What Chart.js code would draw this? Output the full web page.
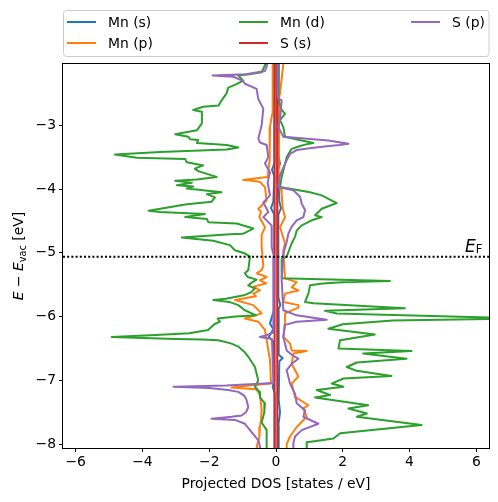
<!DOCTYPE html>
<html>
<head>
<meta charset="utf-8">
<script src="https://cdn.jsdelivr.net/npm/chart.js@4.4.0/dist/chart.umd.min.js"></script>
<style>
  html, body { margin: 0; padding: 0; background: #fff; }
  #wrap { width: 498px; height: 502px; }
</style>
</head>
<body>
<div id="wrap"><canvas id="chart1" width="498" height="502"></canvas></div>
<script>
const xTicks = [-6, -4, -2, 0, 2, 4, 6];
const yTicks = [-8, -7, -6, -5, -4, -3];
const fermiLevel = -5.06;

const names = ['Mn (s)', 'Mn (p)', 'Mn (d)', 'S (s)', 'S (p)'];
const colors = ['#1f77b4', '#ff7f0e', '#2ca02c', '#d62728', '#9467bd'];

// [energy, dos] pairs, spin up positive / spin down negative
const mnSUp = [[-1.9,0.08],[-3.5,0.08],[-3.6,0.12],[-3.7,0.06],[-4.2,0.1],[-4.3,0.15],[-4.4,0.07],[-5.7,0.07],[-5.82,0.13],[-5.9,0.06],[-6.6,0.08],[-6.65,0.2],[-6.7,0.1],[-7.3,0.08],[-7.5,0.12],[-7.7,0.07],[-8.2,0.08]];
const mnSDown = [[-1.9,-0.04],[-3.6,-0.05],[-3.7,-0.12],[-3.8,-0.05],[-4.2,-0.08],[-4.3,-0.15],[-4.4,-0.05],[-5.9,-0.06],[-6.0,-0.12],[-6.11,-0.18],[-6.2,-0.08],[-6.32,-0.22],[-6.4,-0.06],[-7.0,-0.05],[-7.1,-0.1],[-7.2,-0.04],[-8.2,-0.04]];

const mnPUp = [[-1.9,0.24],[-2.04,0.22],[-2.5,0.12],[-2.6,0.08],[-3.9,0.08],[-4.0,0.15],[-4.07,0.17],[-4.3,0.2],[-4.44,0.27],[-4.6,0.12],[-4.85,0.27],[-4.96,0.22],[-5.4,0.27],[-5.46,0.62],[-5.54,0.47],[-5.59,0.67],[-5.64,0.27],[-5.77,0.22],[-5.82,0.67],[-5.86,0.67],[-5.95,0.27],[-6.08,0.27],[-6.32,0.22],[-6.42,0.42],[-6.53,0.47],[-6.54,0.92],[-6.58,0.52],[-6.74,0.47],[-6.94,0.67],[-7.05,0.47],[-7.26,0.57],[-7.39,0.97],[-7.44,0.82],[-7.57,0.92],[-7.73,0.62],[-7.88,0.42],[-8.0,0.32],[-8.2,0.32]];
const mnPDown = [[-1.9,-0.1],[-2.8,-0.1],[-2.87,-0.13],[-3.03,-0.18],[-3.29,-0.2],[-3.55,-0.18],[-3.81,-0.25],[-3.84,-0.7],[-3.86,-0.98],[-3.87,-0.7],[-3.89,-0.48],[-3.97,-0.33],[-4.18,-0.28],[-4.31,-0.53],[-4.36,-0.45],[-4.44,-0.5],[-4.6,-0.33],[-4.72,-0.43],[-4.91,-0.43],[-5.2,-0.38],[-5.27,-0.43],[-5.32,-0.58],[-5.38,-0.28],[-5.43,-0.48],[-5.48,-0.3],[-5.53,-0.68],[-5.59,-0.48],[-5.64,-0.68],[-5.68,-0.6],[-5.74,-1.23],[-5.82,-0.68],[-5.95,-0.43],[-6.03,-0.93],[-6.08,-0.53],[-6.21,-0.33],[-6.37,-0.28],[-6.68,-0.18],[-7.05,-0.15],[-7.08,-0.8],[-7.11,-1.33],[-7.14,-0.6],[-7.21,-0.48],[-7.47,-0.43],[-7.62,-0.45],[-7.73,-0.48],[-7.9,-0.5],[-8.04,-0.58],[-8.2,-0.4]];

const mnDUp = [[-1.9,0.08],[-2.6,0.08],[-2.61,0.07],[-2.76,0.17],[-2.82,0.27],[-2.92,0.12],[-3.03,0.22],[-3.18,0.27],[-3.22,0.6],[-3.26,0.95],[-3.28,1.12],[-3.3,0.9],[-3.33,0.7],[-3.37,0.47],[-3.5,0.32],[-3.71,0.22],[-3.81,0.17],[-3.97,0.12],[-4.05,1.02],[-4.1,1.37],[-4.22,1.82],[-4.31,1.37],[-4.41,1.17],[-4.44,1.37],[-4.49,1.07],[-4.57,0.77],[-4.65,0.62],[-4.75,0.57],[-4.85,0.47],[-5.06,0.32],[-5.1,0.17],[-5.4,0.17],[-5.44,3.41],[-5.46,2.0],[-5.48,1.4],[-5.51,1.02],[-5.64,0.97],[-5.77,0.87],[-5.79,1.12],[-5.87,3.86],[-5.91,1.47],[-5.95,1.82],[-6.03,7.5],[-6.06,3.5],[-6.12,2.0],[-6.19,1.57],[-6.28,2.96],[-6.37,1.92],[-6.5,1.87],[-6.54,4.06],[-6.58,2.61],[-6.66,3.91],[-6.72,2.42],[-6.79,2.12],[-6.85,2.42],[-6.93,3.46],[-6.97,2.02],[-7.05,1.67],[-7.1,2.02],[-7.15,1.22],[-7.23,1.62],[-7.27,1.17],[-7.39,2.76],[-7.44,2.17],[-7.52,2.72],[-7.57,2.42],[-7.7,4.36],[-7.83,1.92],[-7.91,1.72],[-7.95,1.2],[-7.97,0.92],[-8.2,0.92]];
const mnDDown = [[-1.9,-0.33],[-2.06,-0.33],[-2.17,-0.43],[-2.2,-0.8],[-2.22,-1.13],[-2.3,-0.98],[-2.36,-1.2],[-2.41,-1.43],[-2.5,-1.48],[-2.61,-1.63],[-2.69,-1.72],[-2.71,-2.18],[-2.76,-2.48],[-2.79,-2.22],[-2.97,-2.22],[-3.08,-2.37],[-3.14,-3.02],[-3.18,-2.63],[-3.22,-2.57],[-3.23,-2.33],[-3.28,-2.37],[-3.31,-1.48],[-3.35,-1.13],[-3.38,-1.48],[-3.42,-3.47],[-3.46,-4.82],[-3.51,-4.17],[-3.53,-2.72],[-3.58,-2.67],[-3.63,-2.18],[-3.68,-2.43],[-3.72,-2.33],[-3.81,-1.78],[-3.85,-2.37],[-3.87,-3.02],[-3.9,-2.52],[-3.94,-2.97],[-3.96,-2.48],[-3.99,-2.67],[-4.05,-1.63],[-4.08,-2.07],[-4.13,-1.83],[-4.2,-1.93],[-4.24,-2.67],[-4.34,-3.82],[-4.36,-3.47],[-4.39,-2.13],[-4.44,-2.72],[-4.47,-2.07],[-4.52,-2.03],[-4.54,-1.18],[-4.62,-0.68],[-4.7,-0.98],[-4.71,-1.38],[-4.76,-2.82],[-4.81,-1.88],[-4.88,-1.38],[-4.96,-1.23],[-5.01,-0.93],[-5.06,-0.78],[-5.27,-0.83],[-5.32,-0.93],[-5.38,-0.85],[-5.42,-0.58],[-5.45,-0.68],[-5.51,-0.83],[-5.56,-0.63],[-5.62,-0.75],[-5.66,-0.93],[-5.72,-1.5],[-5.74,-1.88],[-5.77,-1.4],[-5.82,-1.13],[-5.9,-0.93],[-5.98,-0.6],[-6.0,-1.2],[-6.03,-1.75],[-6.08,-1.68],[-6.12,-1.85],[-6.21,-2.03],[-6.26,-2.6],[-6.29,-3.6],[-6.32,-4.92],[-6.35,-3.0],[-6.36,-2.2],[-6.37,-1.73],[-6.42,-1.35],[-6.47,-1.13],[-6.55,-0.95],[-6.63,-0.83],[-6.79,-0.63],[-7.0,-0.53],[-7.1,-0.63],[-7.18,-0.5],[-7.27,-0.48],[-7.36,-0.33],[-7.5,-0.35],[-7.66,-0.43],[-7.78,-0.28],[-8.2,-0.28]];

const sSUp = [[-1.9,0.03],[-4.5,0.04],[-6.6,0.05],[-8.2,0.03]];
const sSDown = [[-1.9,-0.04],[-4.5,-0.05],[-6.6,-0.04],[-8.2,-0.04]];

const sPUp = [[-1.9,0.05],[-2.55,0.05],[-2.58,0.07],[-2.61,0.17],[-2.9,0.12],[-3.03,0.07],[-3.18,0.22],[-3.24,1.57],[-3.29,2.17],[-3.31,1.9],[-3.33,1.52],[-3.36,1.0],[-3.39,0.62],[-3.45,0.42],[-3.55,0.32],[-3.78,0.12],[-3.97,0.07],[-4.02,0.52],[-4.12,0.72],[-4.23,0.77],[-4.33,0.87],[-4.44,0.82],[-4.49,0.62],[-4.59,0.47],[-4.7,0.37],[-4.83,0.32],[-5.01,0.22],[-5.43,0.17],[-5.9,0.22],[-5.98,0.62],[-6.05,1.52],[-6.08,0.62],[-6.13,0.27],[-6.32,0.22],[-6.53,0.32],[-6.6,0.47],[-6.66,0.67],[-6.74,0.47],[-6.84,0.32],[-7.05,0.42],[-7.21,0.57],[-7.36,0.62],[-7.47,0.87],[-7.57,0.82],[-7.68,1.27],[-7.78,0.77],[-7.88,0.57],[-7.98,0.52],[-8.2,0.52]];
const sPDown = [[-1.9,-0.22],[-2.08,-0.28],[-2.15,-0.33],[-2.2,-0.9],[-2.22,-1.9],[-2.24,-1.28],[-2.3,-1.0],[-2.35,-0.93],[-2.43,-0.58],[-2.59,-0.53],[-2.74,-0.38],[-3.0,-0.43],[-3.21,-0.53],[-3.27,-0.48],[-3.31,-0.28],[-3.5,-0.23],[-3.6,-0.33],[-3.74,-0.18],[-3.9,-0.25],[-4.1,-0.18],[-4.21,-0.38],[-4.36,-0.23],[-4.44,-0.38],[-4.57,-0.13],[-4.91,-0.13],[-5.06,-0.06],[-6.25,-0.08],[-6.29,-0.28],[-6.32,-0.48],[-6.35,-0.12],[-7.04,-0.08],[-7.08,-1.5],[-7.1,-3.07],[-7.12,-2.0],[-7.15,-1.43],[-7.18,-1.13],[-7.24,-0.95],[-7.31,-0.88],[-7.42,-0.83],[-7.5,-0.9],[-7.55,-1.03],[-7.57,-1.33],[-7.6,-1.93],[-7.62,-1.23],[-7.68,-0.93],[-7.81,-0.73],[-7.94,-0.53],[-8.04,-0.48],[-8.2,-0.48]];

(function() {
    const FONT = 'DejaVu Sans';
    Chart.defaults.font.family = FONT;
    Chart.defaults.color = '#000';

    const toPoints = pairs => pairs.map(p => ({ x: p[1], y: p[0] }));
    const minus = v => String(v).replace('-', '\u2212');

    function curve(pairs, color) {
        return {
            data: toPoints(pairs),
            showLine: true,
            borderColor: color,
            backgroundColor: color,
            borderWidth: 2,
            borderJoinStyle: 'round',
            pointRadius: 0,
            tension: 0,
            fill: false
        }
    }

    // first dataset ends up on top in Chart.js, so list in reverse plot order
    const datasets = [
        {
            data: [{ x: -6.38, y: fermiLevel }, { x: 6.38, y: fermiLevel }],
            showLine: true,
            borderColor: '#000',
            borderWidth: 2,
            borderDash: [2, 2.2],
            pointRadius: 0
        },
        curve(sPDown, colors[4]), curve(sPUp, colors[4]),
        curve(sSDown, colors[3]), curve(sSUp, colors[3]),
        curve(mnDDown, colors[2]), curve(mnDUp, colors[2]),
        curve(mnPDown, colors[1]), curve(mnPUp, colors[1]),
        curve(mnSDown, colors[0]), curve(mnSUp, colors[0])
    ];

    function drawParts(ctx, parts, x, y) {
        parts.forEach(p => {
            ctx.font = p.font;
            ctx.fillText(p.text, x, y + (p.dy || 0));
            x += ctx.measureText(p.text).width;
        });
    }

    function partsWidth(ctx, parts) {
        return parts.reduce((w, p) => { ctx.font = p.font; return w + ctx.measureText(p.text).width }, 0);
    }

    const decor = {
        id: 'decor',
        afterDraw(chart) {
            const ctx = chart.ctx;
            const a = chart.chartArea;
            ctx.save();

            // frame
            ctx.strokeStyle = '#000';
            ctx.lineWidth = 1;
            ctx.strokeRect(Math.round(a.left) - 0.5, Math.round(a.top) - 0.5, Math.round(a.right - a.left) + 1, Math.round(a.bottom - a.top) + 1);

            // legend box
            ctx.fillStyle = 'rgba(255,255,255,0.8)';
            ctx.strokeStyle = '#cccccc';
            ctx.beginPath();
            ctx.roundRect(63.5, 10.5, 425.5, 46, 3);
            ctx.fill();
            ctx.stroke();
            const colX = [67, 239, 411];
            const rowY = [22, 43];
            ctx.textBaseline = 'middle';
            ctx.textAlign = 'left';
            ctx.font = '13.9px ' + FONT;
            names.forEach((n, i) => {
                const cx = colX[Math.floor(i / 2)];
                const cy = rowY[i % 2];
                ctx.strokeStyle = colors[i];
                ctx.lineWidth = 2;
                ctx.beginPath();
                ctx.moveTo(cx, cy);
                ctx.lineTo(cx + 29, cy);
                ctx.stroke();
                ctx.fillStyle = '#000';
                ctx.fillText(n, cx + 41, cy + 1);
            });

            // x title
            ctx.textAlign = 'center';
            ctx.fillText('Projected DOS [states / eV]', (a.left + a.right) / 2, 484);

            // y title with math
            ctx.textAlign = 'left';
            ctx.textBaseline = 'alphabetic';
            const it = 'italic 13.9px ' + FONT;
            const rm = '13.9px ' + FONT;
            const yParts = [
                { text: 'E', font: it },
                { text: ' \u2212 ', font: rm },
                { text: 'E', font: it },
                { text: 'vac', font: '9.7px ' + FONT, dy: 3 },
                { text: ' [eV]', font: rm }
            ];
            ctx.save();
            ctx.translate(18, (a.top + a.bottom) / 2);
            ctx.rotate(-Math.PI / 2);
            drawParts(ctx, yParts, -partsWidth(ctx, yParts) / 2, 5);
            ctx.restore();

            // Fermi level label
            drawParts(ctx, [
                { text: 'E', font: 'italic 17px ' + FONT },
                { text: 'F', font: '11.5px ' + FONT, dy: 1 }
            ], 465, 252);

            ctx.restore();
        }
    };

    new Chart('chart1', {
        type: 'scatter',
        data: { datasets },
        options: {
            responsive: false,
            animation: false,
            layout: { padding: { top: 64, right: 9, left: 0, bottom: 0 } },
            plugins: {
                legend: { display: false },
                tooltip: { enabled: false }
            },
            scales: {
                x: {
                    type: 'linear',
                    min: -6.38,
                    max: 6.38,
                    afterBuildTicks: s => { s.ticks = xTicks.map(v => ({ value: v })) },
                    afterFit: s => { s.height = 54 },
                    grid: { drawOnChartArea: false, tickLength: 4, color: '#000' },
                    border: { display: false },
                    ticks: { font: { size: 13.9 }, color: '#000', padding: 2, maxRotation: 0, callback: v => minus(v) }
                },
                y: {
                    type: 'linear',
                    min: -8.06,
                    max: -2.04,
                    afterBuildTicks: s => { s.ticks = yTicks.map(v => ({ value: v })) },
                    afterFit: s => { s.width = 63 },
                    grid: { drawOnChartArea: false, tickLength: 4, color: '#000' },
                    border: { display: false },
                    ticks: { font: { size: 13.9 }, color: '#000', padding: 3, callback: v => minus(v) }
                }
            }
        },
        plugins: [decor]
    });
})();
</script>
</body>
</html>
